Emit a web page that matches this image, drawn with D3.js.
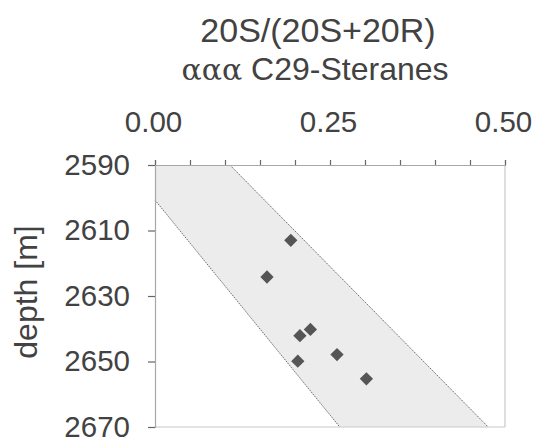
<!DOCTYPE html>
<html>
<head>
<meta charset="utf-8">
<script src="https://cdn.jsdelivr.net/npm/d3@7"></script>
<style>
  html, body { margin: 0; padding: 0; background: #fff; }
  svg { display: block; font-family: "Liberation Sans", Arial, sans-serif; }
</style>
</head>
<body>
<svg id="chart" width="536" height="438"></svg>
<script>
// Sample ratios (x) and their depths (y)
const ratios = [0.194, 0.160, 0.222, 0.207, 0.260, 0.204, 0.302];
const depths = [2613, 2624.2, 2640.2, 2642.1, 2647.9, 2649.9, 2655.3];

// Expected maturity window: two boundary lines
const upperEdgeRatio = [0.107, 0.476];
const upperEdgeDepth = [2590, 2670];
const lowerEdgeRatio = [0.0, 0.264];
const lowerEdgeDepth = [2600.7, 2670];

const xTickValues = [0, 0.05, 0.1, 0.15, 0.2, 0.25, 0.3, 0.35, 0.4, 0.45, 0.5];
const xTickLabels = [0, 0.25, 0.5];
const yTickValues = [2590, 2610, 2630, 2650, 2670];

const svg = d3.select("#chart");
const textColor = "#424242";

const x = d3.scaleLinear().domain([0, 0.5]).range([155, 505]);
const y = d3.scaleLinear().domain([2590, 2670]).range([165, 427]);

// Shaded band between the two boundary lines
const band = [
  [0, 2590],
  [upperEdgeRatio[0], upperEdgeDepth[0]],
  [upperEdgeRatio[1], upperEdgeDepth[1]],
  [lowerEdgeRatio[1], lowerEdgeDepth[1]],
  [lowerEdgeRatio[0], lowerEdgeDepth[0]]
];
svg.append("path")
  .attr("d", d3.line().x(d => x(d[0])).y(d => y(d[1]))(band) + "Z")
  .attr("fill", "#ececec");

const edge = (rs, ds) => svg.append("line")
  .attr("x1", x(rs[0])).attr("y1", y(ds[0]))
  .attr("x2", x(rs[1])).attr("y2", y(ds[1]))
  .attr("stroke", "#6a6a6a").attr("stroke-width", 1)
  .attr("stroke-dasharray", "1.5,1");
edge(upperEdgeRatio, upperEdgeDepth);
edge(lowerEdgeRatio, lowerEdgeDepth);

// Frame (right and bottom)
svg.append("line").attr("x1", x(0.5)).attr("x2", x(0.5)).attr("y1", y(2590)).attr("y2", y(2670))
  .attr("stroke", "#c8c8c8").attr("stroke-width", 1.2);
svg.append("line").attr("x1", x(0)).attr("x2", x(0.5)).attr("y1", y(2670)).attr("y2", y(2670))
  .attr("stroke", "#c8c8c8").attr("stroke-width", 1.2);

// Top axis
const xAxis = svg.append("g").attr("transform", `translate(0,${y(2590)})`)
  .call(d3.axisTop(x).tickValues(xTickValues).tickSize(5).tickFormat(""));
xAxis.select(".domain").attr("stroke", "#a8a8a8").attr("stroke-width", 1.2);
xAxis.selectAll(".tick line").attr("stroke", "#666").attr("stroke-width", 1.2);

svg.append("g").selectAll("text").data(xTickLabels).join("text")
  .attr("x", d => x(d) - 1.5).attr("y", 132)
  .attr("text-anchor", "middle")
  .attr("font-size", 29.5).attr("fill", textColor)
  .text(d => d3.format(".2f")(d));

// Left axis
const yAxis = svg.append("g").attr("transform", `translate(${x(0)},0)`)
  .call(d3.axisLeft(y).tickValues(yTickValues).tickSize(7).tickPadding(18).tickFormat(d3.format("d")));
yAxis.select(".domain").attr("stroke", "#a8a8a8").attr("stroke-width", 1.2);
yAxis.selectAll(".tick line").attr("stroke", "#666").attr("stroke-width", 1.2);
yAxis.selectAll(".tick text")
  .attr("font-size", 29.5).attr("fill", textColor)
  .attr("font-family", "Liberation Sans, Arial, sans-serif");

// Y axis title
svg.append("text")
  .attr("transform", `translate(37,${292}) rotate(-90)`)
  .attr("text-anchor", "middle")
  .attr("font-size", 32).attr("fill", textColor)
  .text("depth [m]");

// Chart title
svg.append("text")
  .attr("x", 318).attr("y", 42)
  .attr("text-anchor", "middle")
  .attr("font-size", 34).attr("fill", textColor)
  .text("20S/(20S+20R)");
const t2 = svg.append("text")
  .attr("x", 315).attr("y", 80)
  .attr("text-anchor", "middle")
  .attr("font-size", 32).attr("fill", textColor);
t2.append("tspan").attr("font-family", "DejaVu Serif, serif").attr("font-size", 30).text("ααα");
t2.append("tspan").text(" C29-Steranes");

// Sample points as diamonds
svg.append("g").selectAll("path").data(ratios).join("path")
  .attr("d", d3.symbol(d3.symbolSquare, 88)())
  .attr("transform", (d, i) => `translate(${x(d)},${y(depths[i])}) rotate(45)`)
  .attr("fill", "#555555");
</script>
</body>
</html>
